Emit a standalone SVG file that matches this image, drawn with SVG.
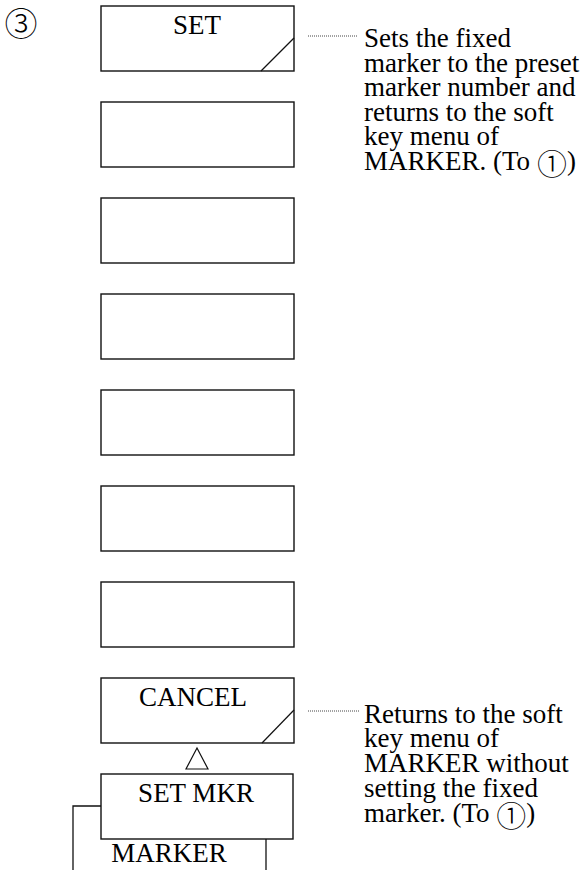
<svg xmlns="http://www.w3.org/2000/svg" width="582" height="870" viewBox="0 0 582 870">
<style>
.key{fill:#fff;stroke:#111;stroke-width:1.4}
.diag{stroke:#111;stroke-width:1.2;fill:none}
.lbl{font-family:"Liberation Serif","Noto Sans CJK JP",serif;font-size:27px;fill:#000}
.desc{font-family:"Liberation Serif","Noto Sans CJK JP",serif;font-size:27px;fill:#000}
.circ{font-family:"Noto Sans CJK JP",sans-serif;font-size:30px;font-weight:300}
.dot{stroke:#444;stroke-width:1;stroke-dasharray:1 1;fill:none}
.ln{stroke:#111;stroke-width:1.3;fill:none}
</style>
<rect width="582" height="870" fill="#fff"/>
<text id="step" class="lbl" x="21" y="36" text-anchor="middle" style="font-size:33px;font-family:'Noto Sans CJK JP',sans-serif;font-weight:300">③</text>
<g id="key-set">
<rect class="key" x="101" y="6" width="193" height="65"/>
<path class="diag" d="M294 38 L261 71"/>
<text class="lbl" x="197" y="34" text-anchor="middle">SET</text>
</g>
<g id="key-2"><rect class="key" x="101" y="102" width="193" height="65"/></g>
<g id="key-3"><rect class="key" x="101" y="198" width="193" height="65"/></g>
<g id="key-4"><rect class="key" x="101" y="294" width="193" height="65"/></g>
<g id="key-5"><rect class="key" x="101" y="390" width="193" height="65"/></g>
<g id="key-6"><rect class="key" x="101" y="486" width="193" height="65"/></g>
<g id="key-7"><rect class="key" x="101" y="582" width="193" height="65"/></g>
<g id="key-cancel">
<rect class="key" x="101" y="678" width="193" height="65"/>
<path class="diag" d="M294 710 L262 743"/>
<text class="lbl" x="193" y="706" text-anchor="middle">CANCEL</text>
</g>
<g id="key-setmkr">
<rect class="key" x="101" y="774" width="192" height="65"/>
<text class="lbl" x="196" y="802" text-anchor="middle">SET MKR</text>
</g>
<g id="menu-marker">
<text class="lbl" x="169" y="862" text-anchor="middle">MARKER</text>
</g>
<g id="desc-set">
<text class="desc" x="364" y="47">Sets the fixed</text>
<text class="desc" x="364" y="71.5">marker to the preset</text>
<text class="desc" x="364" y="96">marker number and</text>
<text class="desc" x="364" y="120.5">returns to the soft</text>
<text class="desc" x="364" y="145">key menu of</text>
<text class="desc" x="364" y="169.5">MARKER. (To <tspan class="circ" dy="5">①</tspan><tspan dy="-5">)</tspan></text>
</g>
<g id="desc-cancel">
<text class="desc" x="364" y="722.5">Returns to the soft</text>
<text class="desc" x="364" y="747.3">key menu of</text>
<text class="desc" x="364" y="772">MARKER without</text>
<text class="desc" x="364" y="797">setting the fixed</text>
<text class="desc" x="364" y="822">marker. (To <tspan class="circ" dy="5">①</tspan><tspan dy="-5">)</tspan></text>
</g>
<g id="connectors">
<path class="dot" d="M308 36 H358"/>
<path class="dot" d="M308 711 H360"/>
<polygon points="197,748 186,769 208,769" fill="#fff" stroke="#111" stroke-width="1.2"/>
<polyline class="ln" points="101,806 73,806 73,870"/>
<path class="ln" d="M266 839 V870"/>
</g>
</svg>
